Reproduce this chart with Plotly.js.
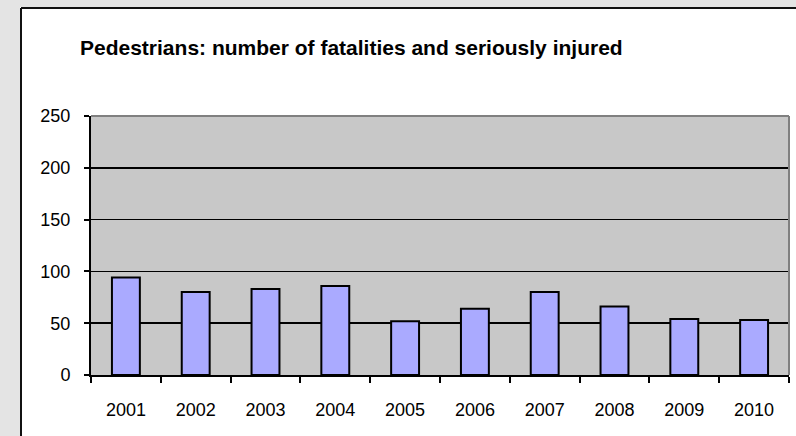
<!DOCTYPE html>
<html>
<head>
<meta charset="utf-8">
<script src="https://cdn.plot.ly/plotly-3.0.1.min.js"></script>
<style>html,body{margin:0;padding:0;background:#fff;}#chart{width:796px;height:436px;}</style>
</head>
<body>
<div id="chart"></div>
<script>
var years = ['2001','2002','2003','2004','2005','2006','2007','2008','2009','2010'];
var casualties = [94, 80, 83, 86, 52, 64, 80, 66, 54, 53];
var yTicks = [0, 50, 100, 150, 200, 250];
var chartTitle = 'Pedestrians: number of fatalities and seriously injured';

var W = 796, H = 436;
var L = 91, R = 7, T = 116, B = 61;
var pw = W - L - R, ph = H - T - B;
function px(x){ return (x - L) / pw; }
function py(y){ return (H - B - y) / ph; }

var grey = '#e4e4e4';
var shapes = [
  {type:'rect', xref:'paper', yref:'paper', x0:px(0), x1:px(20), y0:py(H), y1:py(0), fillcolor:grey, line:{width:0}, layer:'below'},
  {type:'rect', xref:'paper', yref:'paper', x0:px(0), x1:px(W), y0:py(7), y1:py(0), fillcolor:grey, line:{width:0}, layer:'below'},
  {type:'line', xref:'paper', yref:'paper', x0:px(21), x1:px(21), y0:py(H), y1:py(8), line:{color:'#111', width:2}},
  {type:'line', xref:'paper', yref:'paper', x0:px(21), x1:px(W), y0:py(8), y1:py(8), line:{color:'#111', width:2}},
  {type:'line', xref:'paper', yref:'paper', x0:0, x1:1, y0:1, y1:1, line:{color:'#808080', width:2}},
  {type:'line', xref:'paper', yref:'paper', x0:1, x1:1, y0:0, y1:1, line:{color:'#808080', width:2}}
];

var data = [{
  type:'bar', x: years, y: casualties,
  marker:{color:'#aaaaff', line:{color:'#000', width:2}},
  width: 0.4, hoverinfo:'none'
}];

var layout = {
  width: W, height: H,
  margin:{l:L, r:R, t:T, b:B, pad:0},
  paper_bgcolor:'#ffffff', plot_bgcolor:'#c8c8c8',
  showlegend:false,
  font:{family:'Liberation Sans, Arial, sans-serif', color:'#000', size:18},
  title:{text:'<b>' + chartTitle + '</b>', font:{size:21, color:'#000', family:'Liberation Sans, Arial, sans-serif'},
         xref:'container', x:80/W, xanchor:'left', yref:'container', y:1 - 48/H, yanchor:'middle'},
  xaxis:{type:'category', showgrid:false, zeroline:false, showline:true, linecolor:'#000', linewidth:2,
         ticks:'outside', tickson:'boundaries', ticklen:6, tickwidth:2, tickcolor:'#000',
         ticklabelstandoff:17, tickfont:{size:18}},
  yaxis:{range:[0,250], tickvals:yTicks, showgrid:true, gridcolor:'#000', gridwidth:1.5, zeroline:false,
         showline:true, linecolor:'#000', linewidth:2, ticks:'outside', ticklen:5, tickwidth:2, tickcolor:'#000',
         ticklabelstandoff:10, tickfont:{size:18}},
  shapes: shapes
};

Plotly.newPlot('chart', data, layout, {staticPlot:true});
</script>
</body>
</html>
